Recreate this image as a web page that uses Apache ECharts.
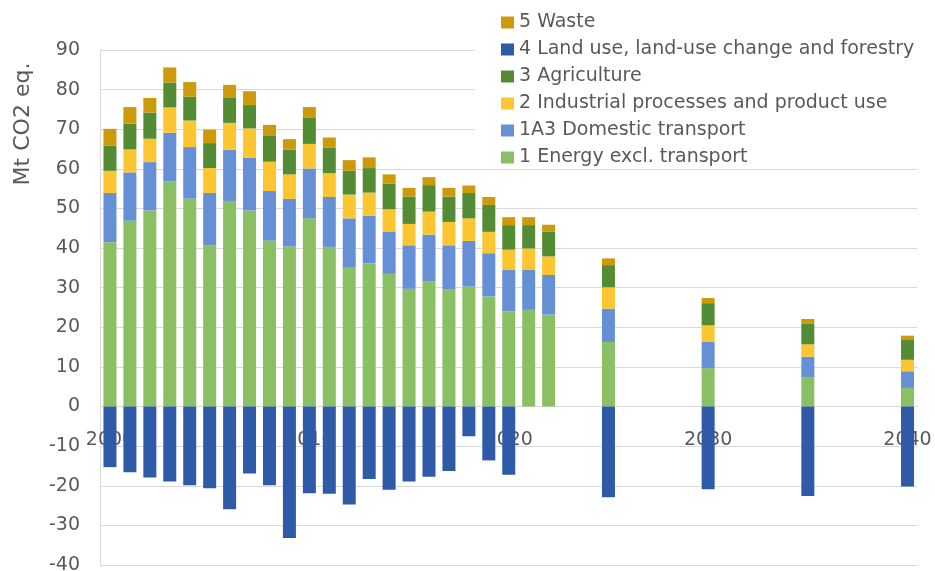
<!DOCTYPE html>
<html>
<head>
<meta charset="utf-8">
<title>Emissions by sector</title>
<script src="https://cdn.jsdelivr.net/npm/echarts@6/dist/echarts.min.js"></script>
<style>
  html, body { margin: 0; padding: 0; background: #fff; }
  #chart_main { width: 935px; height: 571px; }
</style>
</head>
<body>
<div id="chart_main"></div>
<script>
// years shown in the chart (annual to 2022, then projections)
var years = [2000, 2001, 2002, 2003, 2004, 2005, 2006, 2007, 2008, 2009, 2010,
             2011, 2012, 2013, 2014, 2015, 2016, 2017, 2018, 2019, 2020, 2021, 2022,
             2025, 2030, 2035, 2040];

// Mt CO2 eq. per sector, same order as years
var energy    = [41.5, 46.9, 49.5, 56.8, 52.5, 40.7, 51.9, 49.5, 41.9, 40.4, 47.5,
                 40.3, 35.2, 36.2, 33.5, 29.7, 31.6, 29.5, 30.3, 27.8, 24.0, 24.4, 23.2,
                 16.3, 9.7, 7.3, 4.7];
var transport = [12.4, 12.2, 12.2, 12.3, 13.0, 13.2, 12.9, 13.3, 12.5, 12.0, 12.6,
                 12.6, 12.3, 12.0, 10.7, 11.0, 11.8, 11.2, 11.5, 10.9, 10.5, 10.1, 10.0,
                 8.4, 6.6, 5.3, 4.2];
var industry  = [5.6, 5.8, 5.9, 6.4, 6.7, 6.3, 6.8, 7.4, 7.4, 6.2, 6.2,
                 6.0, 6.0, 5.8, 5.6, 5.4, 5.8, 5.9, 5.7, 5.4, 5.1, 5.4, 4.7,
                 5.4, 4.2, 3.1, 2.9];
var agriculture = [6.4, 6.5, 6.6, 6.3, 6.0, 6.3, 6.3, 5.9, 6.5, 6.2, 6.7,
                   6.4, 6.0, 6.2, 6.5, 6.9, 6.7, 6.4, 6.4, 6.8, 6.2, 5.9, 6.2,
                   5.6, 5.6, 5.3, 5.0];
var waste     = [4.2, 4.2, 3.7, 3.8, 3.7, 3.4, 3.3, 3.5, 2.8, 2.7, 2.6,
                 2.6, 2.7, 2.7, 2.3, 2.2, 2.0, 2.2, 1.9, 2.0, 2.0, 2.0, 1.8,
                 1.7, 1.3, 1.1, 1.1];
var landUse   = [-15.3, -16.6, -17.9, -18.9, -19.9, -20.6, -25.9, -16.9, -19.9, -33.2, -21.9,
                 -22.0, -24.7, -18.3, -21.0, -18.9, -17.7, -16.3, -7.5, -13.6, -17.2, null, null,
                 -22.9, -20.9, -22.6, -20.2];

var seriesNames = ['1 Energy excl. transport', '1A3 Domestic transport',
                   '2 Industrial processes and product use', '3 Agriculture',
                   '5 Waste', '4 Land use, land-use change and forestry'];
var seriesColors = ['#8bbf63', '#6690d6', '#fdc52f', '#538c35', '#cc9a0a', '#2f5aa7'];
var legendOrder = ['5 Waste', '4 Land use, land-use change and forestry', '3 Agriculture',
                   '2 Industrial processes and product use', '1A3 Domestic transport',
                   '1 Energy excl. transport'];

// y axis range
var yMin = -40, yMax = 90;

// category axis: every year 2000..2040, empty where there is no data
var xName = [];
for (var y = 2000; y <= 2040; y++) {
    xName.push(String(y));
}

function toAxis(values) {
    var out = [];
    for (var i = 0; i < xName.length; i++) {
        var idx = years.indexOf(Number(xName[i]));
        var v = idx >= 0 ? values[idx] : null;
        out.push(v === null ? '-' : v);
    }
    return out;
}

var allValues = [energy, transport, industry, agriculture, waste, landUse];
var series = [];
for (var s = 0; s < allValues.length; s++) {
    series.push({
        name: seriesNames[s],
        type: 'bar',
        stack: 'total',
        barWidth: 13,
        itemStyle: { color: seriesColors[s] },
        emphasis: { disabled: true },
        data: toAxis(allValues[s])
    });
}

// grid box, used to lift the year labels up to the zero line
var gridTop = 50, gridBottom = 6, chartH = 571;
var plotH = chartH - gridTop - gridBottom;
var zeroLift = plotH * (0 - yMin) / (yMax - yMin);

var textFont = 'DejaVu Sans';
var myChart = echarts.init(document.getElementById('chart_main'));
myChart.setOption({
    animation: false,
    color: seriesColors,
    grid: {
        left: 100,
        right: 17.5,
        top: gridTop,
        bottom: gridBottom,
        outerBoundsMode: 'none'
    },
    legend: {
        orient: 'vertical',
        left: 475,
        top: 4,
        padding: [9, 10, 0, 26],
        backgroundColor: '#fff',
        icon: 'rect',
        itemWidth: 13,
        itemHeight: 12,
        itemGap: 8,
        data: legendOrder,
        textStyle: {
            fontFamily: textFont,
            fontSize: 19,
            color: '#595959'
        }
    },
    graphic: [{
        type: 'text',
        x: 23,
        y: 124,
        rotation: Math.PI / 2,
        style: {
            text: 'Mt CO2 eq.',
            fontFamily: textFont,
            fontSize: 22,
            fill: '#595959',
            textAlign: 'center',
            textVerticalAlign: 'middle'
        }
    }],
    xAxis: {
        type: 'category',
        data: xName,
        boundaryGap: true,
        offset: -zeroLift,
        axisTick: { show: false },
        axisLine: {
            onZero: false,
            lineStyle: { color: '#d9d9d9', width: 1 }
        },
        axisLabel: {
            interval: 9,
            margin: 24,
            fontFamily: textFont,
            fontSize: 19,
            color: '#595959'
        },
        splitLine: { show: false }
    },
    yAxis: {
        type: 'value',
        min: yMin,
        max: yMax,
        interval: 10,
        axisLine: {
            show: true,
            onZero: false,
            lineStyle: { color: '#d9d9d9', width: 1 }
        },
        axisTick: { show: false },
        axisLabel: {
            margin: 20,
            fontFamily: textFont,
            fontSize: 19,
            color: '#595959'
        },
        splitLine: {
            lineStyle: { color: '#d9d9d9', width: 1 }
        }
    },
    series: series
});
</script>
</body>
</html>
